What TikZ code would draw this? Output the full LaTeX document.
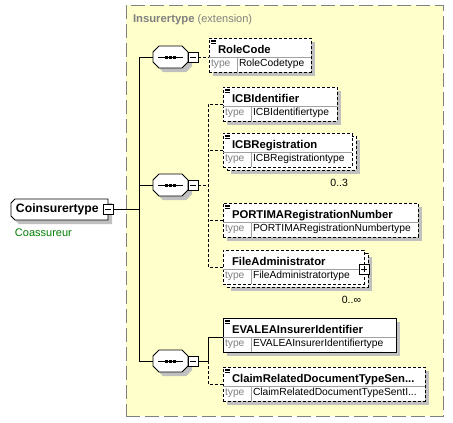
\documentclass[tikz,border=0pt]{standalone}
\usepackage{fontspec}
\setmainfont{Liberation Sans}
\definecolor{bgyellow}{RGB}{255,255,204}
\definecolor{shadowc}{RGB}{192,192,192}
\definecolor{txtgrey}{RGB}{128,128,128}
\definecolor{sepgrey}{RGB}{160,160,160}
\definecolor{dgreen}{RGB}{0,128,0}
\newcommand\myfs[1]{\fontsize{#1pt}{#1pt}\selectfont}
\tikzset{
  every node/.style={inner sep=0pt, outer sep=0pt},
  conn/.style={line width=0.9pt},
  dsh/.style={dash pattern=on 3pt off 2pt},
  shd/.style={preaction={fill=shadowc, transform canvas={shift={(4pt,-4pt)}}}},
  elbox/.style={draw, fill=white, rectangle, anchor=north west, minimum height=34pt, line width=0.9pt},
  seqanchor/.style={rectangle, minimum width=35pt, minimum height=22pt},
  octline/.style={draw, fill=white, line width=0.9pt},
  pmbox/.style={draw, fill=white, rectangle, minimum width=10pt, minimum height=10pt, line width=0.8pt},
  sepline/.style={draw=sepgrey, line width=0.8pt},
  nametxt/.style={anchor=base west, font=\myfs{11.3}\bfseries},
  typelbl/.style={anchor=base west, text=txtgrey, font=\myfs{10.3}},
  typetxt/.style={anchor=base west, font=\myfs{10.3}},
  occ/.style={anchor=base east, font=\myfs{10.5}},
}
% #1 name, #2 left, #3 top, #4 right, #5 style, #6 name text, #7 type text
\newcommand\myelem[7]{%
  \node[elbox, #5, minimum width={(#4-#2)*1pt}] (#1) at (#2,#3) {};
  \draw[sepline] ([yshift=-19pt]#1.north west) -- ([yshift=-19pt]#1.north east);
  \draw[sepline] ([xshift=28pt,yshift=-19pt]#1.north west) -- ([xshift=28pt]#1.south west);
  \node[nametxt] (#1-n) at ([xshift=9pt,yshift=-15pt]#1.north west) {#6};
  \node[typelbl] (#1-tl) at ([xshift=2pt,yshift=-28.5pt]#1.north west) {type};
  \node[typetxt] (#1-t) at ([xshift=30pt,yshift=-28.5pt]#1.north west) {#7};
}
\newcommand\myicon[1]{%
  \foreach \dy in {1.8,3.6,5.4}{\draw[line width=0.5pt] ([xshift=2pt,yshift=-\dy pt]#1.north west) -- ++(5,0);}
}
\newcommand\myminus[1]{\draw[line width=0.8pt] ([xshift=-3pt]#1.center) -- ([xshift=3pt]#1.center);}
% octagon: #1 cx, #2 cy, #3 w, #4 h, #5 chamfer
\newcommand\myoctpath[5]{%
  ({#1-#3/2+#5},{#2-#4/2}) -- ({#1+#3/2-#5},{#2-#4/2}) -- ({#1+#3/2},{#2-#4/2+#5}) --
  ({#1+#3/2},{#2+#4/2-#5}) -- ({#1+#3/2-#5},{#2+#4/2}) -- ({#1-#3/2+#5},{#2+#4/2}) --
  ({#1-#3/2},{#2+#4/2-#5}) -- ({#1-#3/2},{#2-#4/2+#5}) -- cycle}
% sequence symbol: #1 name, #2 cx, #3 cy
\newcommand\myseq[3]{%
  \begin{scope}[shift={(4,4)}]\fill[shadowc] \myoctpath{#2}{#3}{35}{22}{6};\end{scope}
  \path[octline] \myoctpath{#2}{#3}{35}{22}{6};
  \node[seqanchor] (#1) at (#2,#3) {};
  \draw[line width=0.9pt] ([xshift=5pt]#1.west) -- ([xshift=-5pt]#1.east);
  \foreach \dx in {-4,0,4}{\fill ([xshift=\dx pt-1.2pt,yshift=1.5pt]#1.center) rectangle ++(2.4,3);}
}
\begin{document}
\begin{tikzpicture}[x=1pt,y=-1pt]
\useasboundingbox (0,0) rectangle (453,423);
\fill[white] (0,0) rectangle (453,423);

% extension frame
\node[draw=txtgrey, fill=bgyellow, line width=0.9pt, dash pattern=on 14pt off 5pt,
  minimum width=317pt, minimum height=411pt, anchor=north west] (ext) at (126,5) {};
\node[anchor=base west, text=txtgrey] (title) at (133,22.5)
  {\myfs{11.3}\textbf{Insurertype} \myfs{11}(extension)};

% root element
\begin{scope}[shift={(4,4)}]
  \fill[shadowc] (15,199) -- (108,199) -- (108,220) -- (15,220) -- (11,216) -- (11,203) -- cycle;
\end{scope}
\path[octline] (15,199) -- (108,199) -- (108,220) -- (15,220) -- (11,216) -- (11,203) -- cycle;
\node[rectangle, minimum width=97pt, minimum height=21pt, anchor=north west] (root) at (11,199) {};
\node[anchor=base west, font=\myfs{12.2}\bfseries] (root-n) at (16,212.5) {Coinsurertype};
\node[pmbox] (root-m) at (root.east) {};
\myminus{root-m}
\node[anchor=base west, text=dgreen, font=\myfs{11}] (root-doc) at (15,236) {Coassureur};

% sequences
\myseq{s1}{170.5}{57}
\node[pmbox, anchor=west] (m1) at (s1.east) {};
\myminus{m1}
\myseq{s2}{170.5}{185}
\node[pmbox, anchor=west] (m2) at (s2.east) {};
\myminus{m2}
\myseq{s3}{170.5}{361}
\node[pmbox, anchor=west] (m3) at (s3.east) {};
\myminus{m3}

\coordinate (spine) at (139.5,208);
\coordinate (j2) at (208,185);
\coordinate (j3) at (208,361);

% elements
\myelem{rolecode}{209}{38}{311}{shd,dsh}{RoleCode}{RoleCodetype}
\myicon{rolecode}
\myelem{icbid}{223}{87}{337}{shd,dsh}{ICBIdentifier}{ICBIdentifiertype}
\myicon{icbid}
\node[elbox, shd, dsh, minimum width=129pt] (icbreg-b) at (227,136) {};
\myelem{icbreg}{223}{133}{352}{dsh}{ICBRegistration}{ICBRegistrationtype}
\myicon{icbreg}
\node[occ] (icbreg-o) at (348,186.5) {0..3};
\myelem{portima}{223}{203}{418}{shd,dsh}{PORTIMARegistrationNumber}{PORTIMARegistrationNumbertype}
\myicon{portima}
\node[elbox, shd, dsh, minimum width=141pt] (fileadm-b) at (227,253) {};
\myelem{fileadm}{223}{250}{364}{dsh}{FileAdministrator}{FileAdministratortype}
\node[pmbox] (fileadm-p) at ([yshift=-19pt]fileadm.north east) {};
\draw[line width=0.8pt] ([xshift=-3pt]fileadm-p.center) -- ([xshift=3pt]fileadm-p.center)
  ([yshift=-3pt]fileadm-p.center) -- ([yshift=3pt]fileadm-p.center);
\node[occ] (fileadm-o) at (361,303) {0..∞};
\myelem{evalea}{223}{318}{396}{shd}{EVALEAInsurerIdentifier}{EVALEAInsurerIdentifiertype}
\myicon{evalea}
\myelem{claim}{223}{367}{425}{shd,dsh}{ClaimRelatedDocumentTypeSen...}{ClaimRelatedDocumentTypeSentI...}
\myicon{claim}

% connectors
\draw[conn] (root-m.east) -- (root-m.east -| spine);
\draw[conn] (s1.west) -- (s1.west -| spine) -- (s3.west -| spine) -- (s3.west);
\draw[conn] (s2.west) -- (s2.west -| spine);
\draw[conn, dsh] (m1.east) -- (m1.east -| rolecode.west);
\draw[conn, dsh] (m2.east) -- (j2);
\draw[conn, dsh] (icbid.west) -- (icbid.west -| j2) -- (fileadm.west -| j2) -- (fileadm.west);
\draw[conn, dsh] (icbreg.west) -- (icbreg.west -| j2);
\draw[conn, dsh] (portima.west) -- (portima.west -| j2);
\draw[conn] (m3.east) -- (j3) |- ([yshift=-2pt]evalea.west);
\draw[conn, dsh] (j3) |- (claim.west);
\end{tikzpicture}
\end{document}
